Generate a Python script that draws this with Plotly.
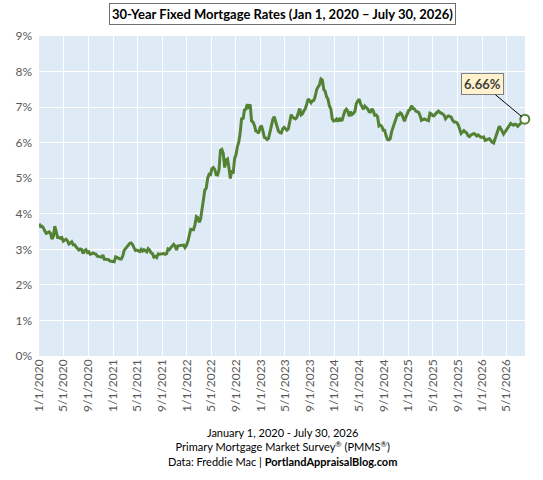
import pandas as pd
import plotly.graph_objects as go

LINE_COLOUR = 'rgb(84,130,53)'
PLOT_BG = 'rgb(222,235,247)'
TEXT_COLOUR = 'rgb(89,89,89)'
FONT = 'Lato'

# weekly 30-year fixed rates (Freddie Mac PMMS), one list per year
RATES_2020 = [3.72, 3.64, 3.65, 3.60, 3.51, 3.45, 3.47, 3.49, 3.45, 3.29, 3.36, 3.65, 3.50,
              3.33, 3.33, 3.31, 3.33, 3.23, 3.26, 3.28, 3.24, 3.15, 3.18, 3.21, 3.13, 3.13,
              3.07, 3.03, 2.98, 3.01, 2.99, 2.88, 2.96, 2.99, 2.91, 2.93, 2.86, 2.87, 2.90,
              2.88, 2.87, 2.81, 2.80, 2.81, 2.78, 2.84, 2.72, 2.72, 2.71, 2.71, 2.67, 2.66, 2.67]
RATES_2021 = [2.65, 2.79, 2.77, 2.73, 2.73, 2.73, 2.81, 2.97, 3.02, 3.05, 3.09, 3.17,
              3.18, 3.13, 3.04, 2.97, 2.98, 2.96, 2.94, 3.00, 2.95, 2.99, 2.96, 2.93, 3.02,
              2.98, 2.90, 2.88, 2.78, 2.80, 2.77, 2.87, 2.86, 2.87, 2.87, 2.88, 2.86, 2.88, 3.01,
              2.99, 3.05, 3.09, 3.14, 3.09, 2.98, 3.10, 3.10, 3.11, 3.10, 3.12, 3.05, 3.11]
RATES_2022 = [3.22, 3.45, 3.56, 3.55, 3.55, 3.69, 3.92, 3.89, 3.76, 3.85, 4.16, 4.42, 4.67,
              4.72, 5.00, 5.11, 5.10, 5.27, 5.30, 5.25, 5.10, 5.09, 5.23, 5.78, 5.81, 5.70,
              5.30, 5.51, 5.54, 5.30, 4.99, 5.22, 5.13, 5.55, 5.66, 5.89, 6.02, 6.29, 6.70,
              6.66, 6.92, 6.94, 7.08, 6.95, 7.08, 6.61, 6.58, 6.49, 6.33, 6.31, 6.27, 6.42]
RATES_2023 = [6.48, 6.33, 6.15, 6.13, 6.09, 6.12, 6.32, 6.50, 6.65, 6.73, 6.60, 6.42, 6.32,
              6.28, 6.27, 6.39, 6.43, 6.39, 6.35, 6.39, 6.57, 6.79, 6.71, 6.69, 6.67, 6.71,
              6.81, 6.96, 6.78, 6.81, 6.90, 6.96, 7.09, 7.23, 7.18, 7.12, 7.18, 7.19, 7.31,
              7.49, 7.57, 7.63, 7.79, 7.76, 7.50, 7.44, 7.29, 7.22, 7.03, 6.95, 6.67, 6.61]
RATES_2024 = [6.62, 6.66, 6.60, 6.69, 6.63, 6.64, 6.77, 6.90, 6.94, 6.88, 6.74, 6.87, 6.79,
              6.82, 6.88, 7.10, 7.17, 7.22, 7.09, 7.02, 6.94, 7.03, 6.99, 6.95, 6.87, 6.86,
              6.95, 6.89, 6.77, 6.78, 6.73, 6.47, 6.49, 6.46, 6.35, 6.35, 6.20, 6.09, 6.08,
              6.12, 6.32, 6.44, 6.54, 6.72, 6.79, 6.78, 6.84, 6.81, 6.69, 6.60, 6.72, 6.85]
RATES_2025 = [6.91, 6.93, 7.04, 6.96, 6.95, 6.89, 6.87, 6.85, 6.76, 6.63, 6.65, 6.67, 6.65,
              6.64, 6.62, 6.83, 6.81, 6.76, 6.76, 6.81, 6.86, 6.89, 6.85, 6.84, 6.81, 6.77,
              6.67, 6.72, 6.75, 6.74, 6.72, 6.63, 6.58, 6.58, 6.56, 6.50, 6.35, 6.26, 6.30,
              6.34, 6.30, 6.27, 6.19, 6.17, 6.22, 6.24, 6.26, 6.23, 6.19, 6.22, 6.18, 6.15]
RATES_2026 = [6.15, 6.16, 6.06, 6.09, 6.10, 6.11, 6.05, 6.01, 5.99, 6.11, 6.22, 6.38, 6.46,
              6.40, 6.32, 6.24, 6.30, 6.37, 6.42, 6.47, 6.54, 6.51, 6.49, 6.52, 6.51, 6.46,
              6.50, 6.56, 6.58, 6.61, 6.66]

TICK_DATES = ['2020-01-01', '2020-05-01', '2020-09-01', '2021-01-01', '2021-05-01',
              '2021-09-01', '2022-01-01', '2022-05-01', '2022-09-01', '2023-01-01',
              '2023-05-01', '2023-09-01', '2024-01-01', '2024-05-01', '2024-09-01',
              '2025-01-01', '2025-05-01', '2025-09-01', '2026-01-01', '2026-05-01']
TICK_LABELS = ['1/1/2020', '5/1/2020', '9/1/2020', '1/1/2021', '5/1/2021', '9/1/2021',
               '1/1/2022', '5/1/2022', '9/1/2022', '1/1/2023', '5/1/2023', '9/1/2023',
               '1/1/2024', '5/1/2024', '9/1/2024', '1/1/2025', '5/1/2025', '9/1/2025',
               '1/1/2026', '5/1/2026']
Y_TICKS = [0, 1, 2, 3, 4, 5, 6, 7, 8, 9]

rates = RATES_2020 + RATES_2021 + RATES_2022 + RATES_2023 + RATES_2024 + RATES_2025 + RATES_2026
dates = pd.date_range('2020-01-02', '2026-07-30', freq='7D')

fig = go.Figure()
fig.add_trace(go.Scatter(x=dates, y=rates, mode='lines',
                         line={'color': LINE_COLOUR, 'width': 3}, hoverinfo='skip'))
# last reading, open circle
fig.add_trace(go.Scatter(x=[dates[-1]], y=[rates[-1]], mode='markers', cliponaxis=False,
                         marker={'symbol': 'circle', 'size': 9, 'color': 'white',
                                 'line': {'color': LINE_COLOUR, 'width': 2}}))

fig.add_annotation(x=dates[-1], y=rates[-1], text='<b>%.2f%%</b>' % rates[-1],
                   showarrow=True, arrowhead=0, arrowwidth=1, arrowcolor='black',
                   ax=-42, ay=-35, standoff=4,
                   bgcolor='rgb(255,242,204)', bordercolor='rgb(128,128,128)', borderwidth=1,
                   borderpad=2, font={'family': FONT, 'size': 13, 'color': 'rgb(64,64,64)'})

fig.add_annotation(xref='paper', yref='paper', x=0.5, y=1, yshift=22, yanchor='middle',
                   showarrow=False,
                   text='<b>30-Year Fixed Mortgage Rates (Jan 1, 2020 \u2013 July 30, 2026)</b>',
                   bgcolor='white', bordercolor='rgb(110,110,110)', borderwidth=1, borderpad=2,
                   font={'family': FONT, 'size': 13, 'color': 'black'})

fig.add_annotation(xref='paper', yref='paper', x=0.5, y=0, yshift=-68, showarrow=False,
                   align='center', yanchor='top',
                   text='January 1, 2020 - July 30, 2026<br>'
                        'Primary Mortgage Market Survey<sup>\u00ae</sup> (PMMS<sup>\u00ae</sup>)<br>'
                        'Data: Freddie Mac | <b>PortlandAppraisalBlog.com</b>',
                   font={'family': FONT, 'size': 11, 'color': 'black'})

fig.update_layout(width=543, height=480, showlegend=False,
                  margin={'l': 39, 'r': 18, 't': 36, 'b': 124},
                  paper_bgcolor='white', plot_bgcolor=PLOT_BG,
                  font={'family': FONT, 'size': 12, 'color': TEXT_COLOUR})
fig.update_xaxes(range=['2020-01-01', '2026-07-31'], tickvals=TICK_DATES, ticktext=TICK_LABELS,
                 tickangle=-90, showgrid=True, gridcolor='white', gridwidth=1,
                 zeroline=False, showline=False, ticks='', tickfont={'size': 12})
fig.update_yaxes(range=[0, 9], tickvals=Y_TICKS, ticktext=['%d%%' % v for v in Y_TICKS],
                 showgrid=True, gridcolor='white', gridwidth=1, zeroline=False,
                 showline=False, ticks='', ticklabelstandoff=6, tickfont={'size': 12})

# page has a default 8px body margin, drop it so the figure fills the window
fig.write_html('out.html', config={'displayModeBar': False},
               post_script="document.body.style.margin='0';")
